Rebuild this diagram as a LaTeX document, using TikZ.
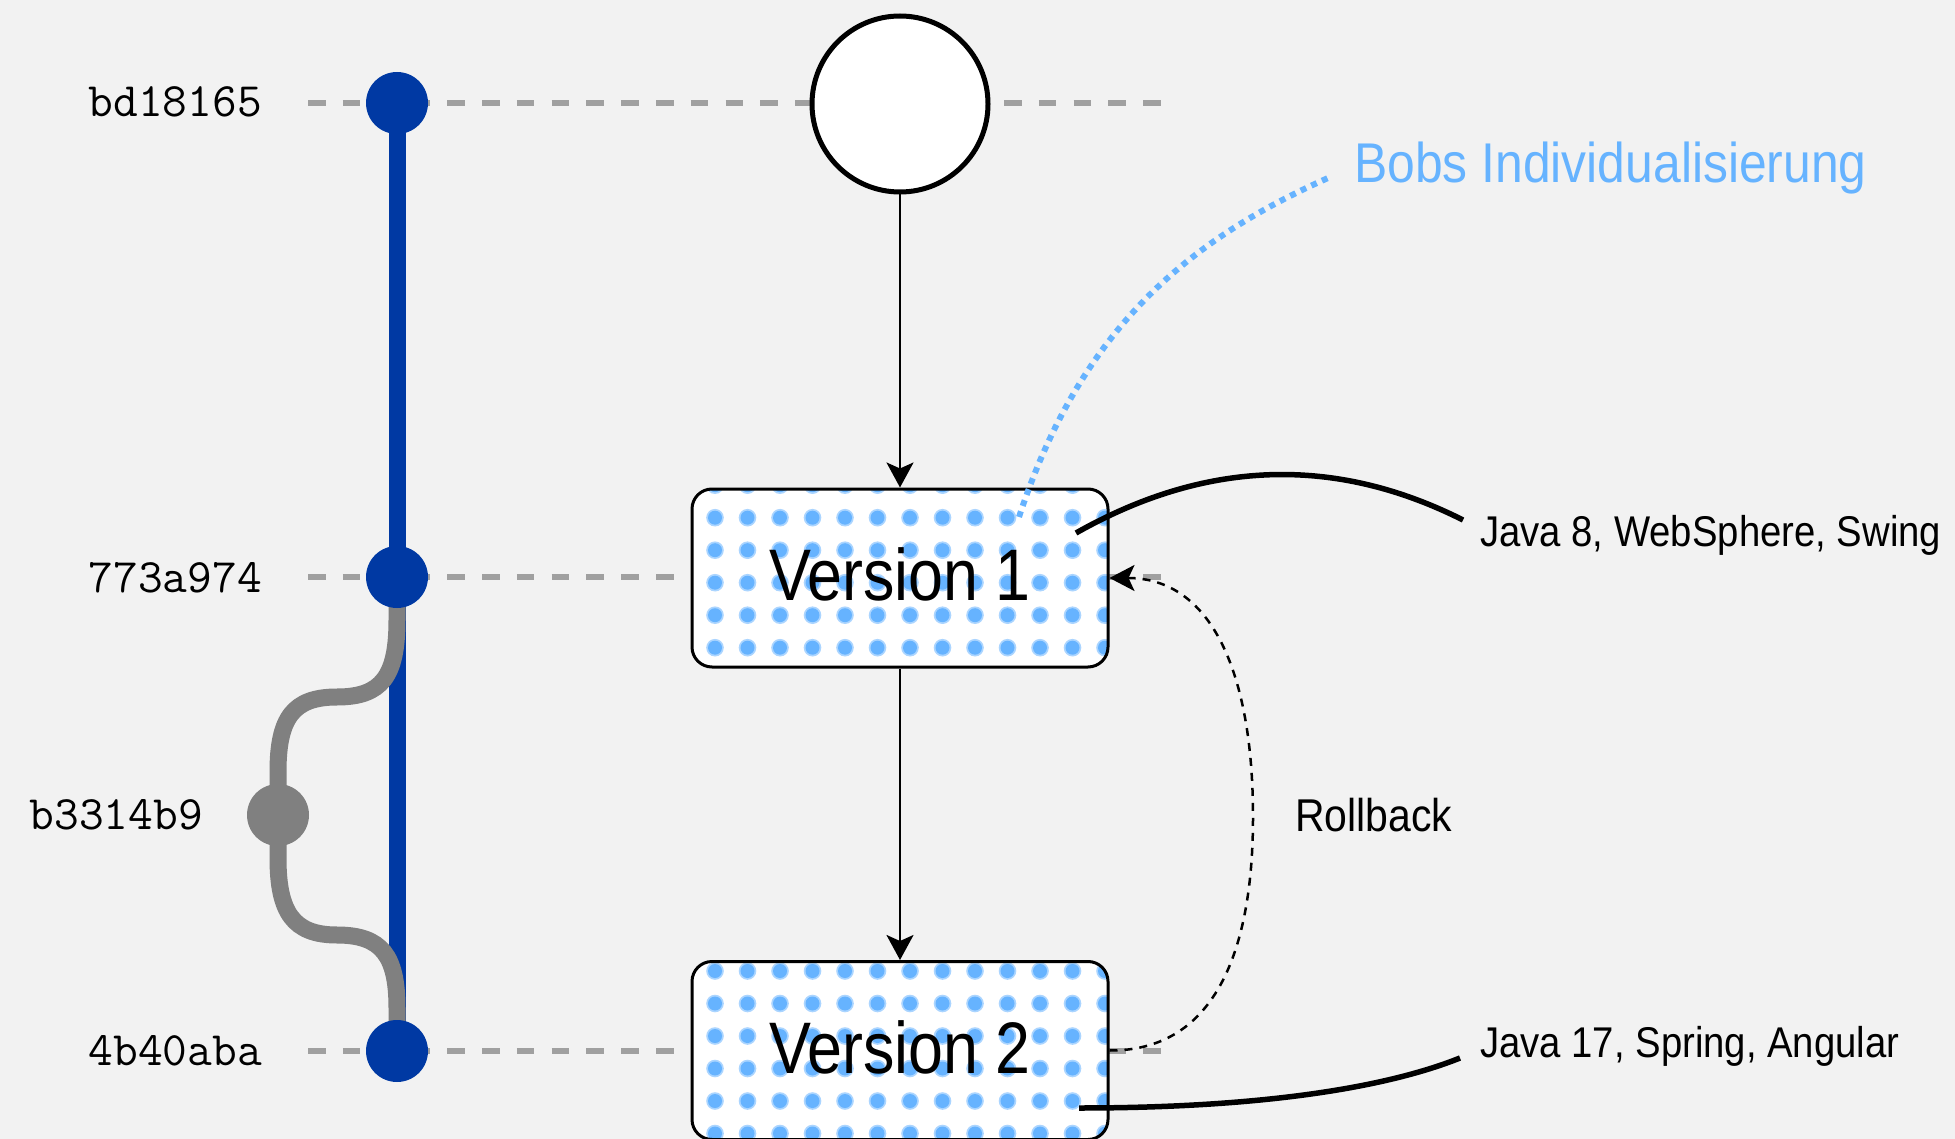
\documentclass[tikz,border=0pt]{standalone}
\usepackage{fontspec}
\setmainfont{Liberation Sans}
\newfontfamily\labfont[FakeStretch=0.89]{Liberation Sans}
\newfontfamily\verfont[FakeStretch=0.86]{Liberation Sans}
\usetikzlibrary{arrows.meta,calc}
\definecolor{bgc}{HTML}{F2F2F2}
\definecolor{rowgrey}{HTML}{A0A0A0}
\definecolor{branchgrey}{HTML}{808080}
\definecolor{mainblue}{HTML}{0039A3}
\definecolor{dotblue}{HTML}{66B3FF}
\newcommand\dotgrid[2]{%
  \foreach \i in {-7,...,7}{%
    \foreach \j in {-4,...,4}{%
      \fill[dotblue!55!white] ($(path picture bounding box.center)+(#1+\i*32.5,#2+\j*32.5)$) circle (8.8pt);
      \fill[dotblue] ($(path picture bounding box.center)+(#1+\i*32.5,#2+\j*32.5)$) circle (7pt);
    }}}
\tikzset{
  rowline/.style={draw=rowgrey, line width=6.5pt, dash pattern=on 17.5pt off 17.3pt},
  mainline/.style={draw=mainblue, line width=17pt},
  branchline/.style={draw=branchgrey, line width=17pt},
  bluedot/.style={circle, fill=mainblue, minimum size=62pt, inner sep=0pt},
  greydot/.style={circle, fill=branchgrey, minimum size=62pt, inner sep=0pt},
  hash/.style={font=\ttfamily\fontsize{48}{52}\selectfont, inner sep=0pt, anchor=base east},
  verbox/.style={draw=black, line width=3pt, rounded corners=20pt, fill=white,
    minimum width=416pt, minimum height=178pt, inner sep=0pt,
    font=\verfont\fontsize{73}{80}\selectfont, text height=53pt, text depth=8pt},
  topcircle/.style={circle, draw=black, line width=5pt, fill=white, minimum size=176pt, inner sep=0pt},
  flow/.style={draw=black, line width=2.5pt, -{Stealth[length=25pt,width=27pt,inset=6pt]}},
  rollarrow/.style={draw=black, line width=2.5pt, dash pattern=on 8pt off 7pt, -{Stealth[length=25pt,width=26pt,inset=6pt]}},
  techline/.style={draw=black, line width=5.5pt},
  bobline/.style={draw=dotblue, line width=6pt, dash pattern=on 6pt off 5.7pt},
  lab/.style={font=\labfont\fontsize{43}{48}\selectfont, inner sep=0pt, anchor=base west},
}
\begin{document}
\begin{tikzpicture}[x=1pt,y=-1pt]
\fill[bgc] (0,0) rectangle (1955,1139);
\useasboundingbox (0,0) rectangle (1955,1139);

% commit positions
\coordinate (p1) at (397,103);
\coordinate (p2) at (397,577);
\coordinate (p3) at (397,1051);
\coordinate (pb) at (278,815);

% dashed row guides
\coordinate (r1a) at (308,103);  \coordinate (r1b) at (1166,103);
\coordinate (r2a) at (308,577);  \coordinate (r2b) at (1166,577);
\coordinate (r3a) at (308,1051); \coordinate (r3b) at (1166,1051);
\draw[rowline] (r1a) -- (r1b);
\draw[rowline] (r2a) -- (r2b);
\draw[rowline] (r3a) -- (r3b);

% main branch
\draw[mainline] (p1) -- (p3);
% side branch
\draw[branchline] (p2) -- (397,620) .. controls (397,676) and (382,697) .. (337,697)
  .. controls (293,697) and (278,718) .. (278,772) -- (pb)
  -- (278,858) .. controls (278,912) and (293,935) .. (337,935)
  .. controls (382,935) and (397,956) .. (397,1008) -- (p3);

\node[bluedot] (c1) at (p1) {};
\node[bluedot] (c2) at (p2) {};
\node[bluedot] (c3) at (p3) {};
\node[greydot] (cb) at (pb) {};

\node[hash] (h1) at (262,117) {bd18165};
\node[hash] (h2) at (262,592) {773a974};
\node[hash] (hb) at (203,829) {b3314b9};
\node[hash] (h3) at (262,1065) {4b40aba};

% versions
\node[topcircle] (top) at (900,104) {};
\node[verbox, path picture={\dotgrid{10}{4.7}}] (v1) at (900,578) {Version 1};
\node[verbox, path picture={\dotgrid{10}{-14.5}}] (v2) at (900,1050.5) {Version 2};

\draw[flow] (top) -- (v1);
\draw[flow] (v1) -- (v2);

% rollback
\coordinate (rb) at (1253,817);
\draw[rollarrow] (v2.east) .. controls (1210,1051) and (1253,960) .. (rb)
  .. controls (1253,670) and (1210,578) .. (v1.east);
\node[lab, font=\labfont\fontsize{46}{50}\selectfont] (roll) at (1295,831) {Rollback};

% tech labels
\node[lab] (t1) at (1480,546) {Java 8, WebSphere, Swing};
\node[lab] (t2) at (1480,1057) {Java 17, Spring, Angular};
\coordinate (t1s) at (1076,533);
\coordinate (t1e) at (1463,520);
\coordinate (t2s) at (1079,1108);
\coordinate (t2e) at (1460,1058);
\draw[techline] (t1s) .. controls (1205,460) and (1334,455) .. (t1e);
\draw[techline] (t2s) .. controls (1250,1108) and (1380,1090) .. (t2e);

% Bob
\node[lab, text=dotblue, font=\labfont\fontsize{56}{60}\selectfont] (bob) at (1354,183) {Bobs Individualisierung};
\coordinate (bs) at (1019,517);
\coordinate (be) at (1328,178);
\draw[bobline] (bs) .. controls (1081,327) and (1191,239) .. (be);
\end{tikzpicture}
\end{document}
